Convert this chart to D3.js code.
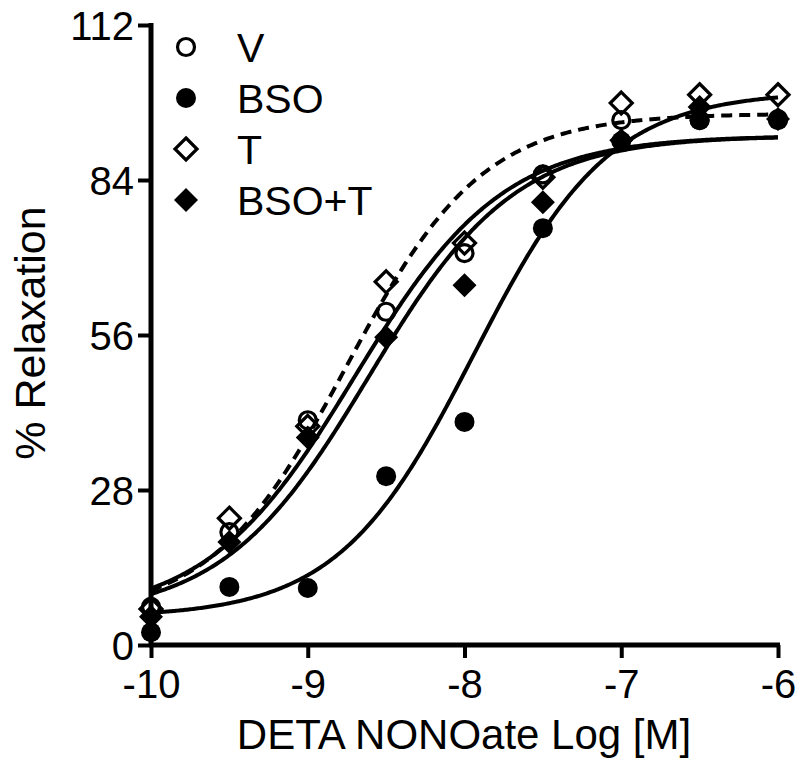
<!DOCTYPE html>
<html>
<head>
<meta charset="utf-8">
<script src="https://cdn.jsdelivr.net/npm/d3@7"></script>
<style>
  html, body { margin: 0; padding: 0; background: #fff; }
  svg text { font-family: "Liberation Sans", Arial, sans-serif; fill: #000; }
</style>
</head>
<body>
<svg id="chart" width="800" height="776"></svg>
<script>
// ---- data ----
const logDose = [-10, -9.5, -9, -8.5, -8, -7.5, -7, -6.5, -6];
const seriesNames = ["V", "BSO", "T", "BSO+T"];
const valuesV    = [6.9, 20.4, 40.6, 60.2, 70.8, 85.0, 94.8, 94.8, 95.0];
const valuesBSO  = [2.3, 10.5, 10.3, 30.5, 40.3, 75.3, 91.0, 94.8, 94.8];
const valuesT    = [6.5, 22.9, 39.5, 65.6, 72.6, 84.5, 97.9, 99.4, 99.4];
const valuesBSOT = [5.1, 18.6, 37.5, 55.6, 65.0, 80.0, 91.2, 97.2, 95.0];
// fitted dose-response curves (bottom, top, logEC50, hill) per series
const fitBottom  = [5, 5, 5, 5];
const fitTop     = [92, 100, 96, 92];
const fitLogEC50 = [-8.70, -7.94, -8.75, -8.61];
const fitHill    = [0.92, 1.0, 1.0, 0.93];
const xTicks = [-10, -9, -8, -7, -6];
const yTicks = [0, 28, 56, 84, 112];
const xTitle = "DETA NONOate Log [M]";
const yTitle = "% Relaxation";

// ---- layout ----
const svg = d3.select("#chart");
const pLeft = 151, pTop = 25, pRight = 778, pBottom = 645;
const x = d3.scaleLinear().domain([-10, -6]).range([pLeft, pRight]);
const y = d3.scaleLinear().domain([0, 112]).range([pBottom, pTop]);

const allValues = [valuesV, valuesBSO, valuesT, valuesBSOT];
const symbols = [
  {shape: "circle", fill: false},
  {shape: "circle", fill: true},
  {shape: "diamond", fill: false},
  {shape: "diamond", fill: true}
];

// curves
const curveX = d3.range(0, 401).map(i => -10 + i * 0.01);
const lineGen = d3.line().x(d => x(d[0])).y(d => y(d[1]));
seriesNames.forEach((name, i) => {
  const pts = curveX.map(xv => [xv,
    fitBottom[i] + (fitTop[i] - fitBottom[i]) / (1 + Math.pow(10, (fitLogEC50[i] - xv) * fitHill[i]))]);
  svg.append("path")
    .attr("d", lineGen(pts))
    .attr("fill", "none")
    .attr("stroke", "#000")
    .attr("stroke-width", 4)
    .attr("stroke-dasharray", name === "T" ? "11,7" : null);
});

// axes
const xAxis = d3.axisBottom(x).tickValues(xTicks).tickSize(13).tickPadding(12).tickFormat(d3.format("d"));
const yAxis = d3.axisLeft(y).tickValues(yTicks).tickSize(13).tickPadding(4).tickFormat(d3.format("d"));
const gx = svg.append("g").attr("transform", `translate(0,${pBottom})`).call(xAxis);
const gy = svg.append("g").attr("transform", `translate(${pLeft},0)`).call(yAxis);
gx.select(".domain").attr("stroke", "#000").attr("stroke-width", 5).attr("d", `M${pLeft - 2},0H${pRight + 2}`);
gy.select(".domain").attr("stroke", "#000").attr("stroke-width", 5).attr("d", `M0,${pTop - 2}V${pBottom + 2}`);
[gx, gy].forEach(g => {
  g.selectAll(".tick line").attr("stroke", "#000").attr("stroke-width", 4);
  g.selectAll(".tick text").attr("font-size", 40).attr("font-family", "Liberation Sans, Arial, sans-serif").attr("fill", "#000");
});
gx.selectAll(".tick text").text(d => d < 0 ? "-" + Math.abs(d) : d);
gy.selectAll(".tick text").attr("dy", "0.36em");

// symbols
function drawSymbol(g, cx, cy, s) {
  if (s.shape === "circle") {
    g.append("circle").attr("cx", cx).attr("cy", cy)
      .attr("r", s.fill ? 10 : 8.5)
      .attr("fill", s.fill ? "#000" : "none")
      .attr("stroke", s.fill ? "none" : "#000")
      .attr("stroke-width", 3.2);
  } else {
    const dd = s.fill ? 12 : 11;
    g.append("path")
      .attr("d", `M${cx},${cy - dd}L${cx + dd},${cy}L${cx},${cy + dd}L${cx - dd},${cy}Z`)
      .attr("fill", s.fill ? "#000" : "none")
      .attr("stroke", s.fill ? "none" : "#000")
      .attr("stroke-width", 3.2)
      .attr("stroke-linejoin", "miter");
  }
}
const pg = svg.append("g");
allValues.forEach((vals, i) => {
  vals.forEach((v, j) => drawSymbol(pg, x(logDose[j]), y(v), symbols[i]));
});

// legend
const lg = svg.append("g");
const legendY = [47, 98, 149, 200];
seriesNames.forEach((name, i) => {
  drawSymbol(lg, 186, legendY[i], symbols[i]);
  lg.append("text").attr("x", 237).attr("y", legendY[i]).attr("dy", "0.36em")
    .attr("font-size", 41).text(name);
});

// titles
svg.append("text").attr("x", 464).attr("y", 749)
  .attr("text-anchor", "middle").attr("font-size", 42).text(xTitle);
svg.append("text").attr("transform", "translate(45,333) rotate(-90)")
  .attr("text-anchor", "middle").attr("font-size", 43).text(yTitle);
</script>
</body>
</html>
